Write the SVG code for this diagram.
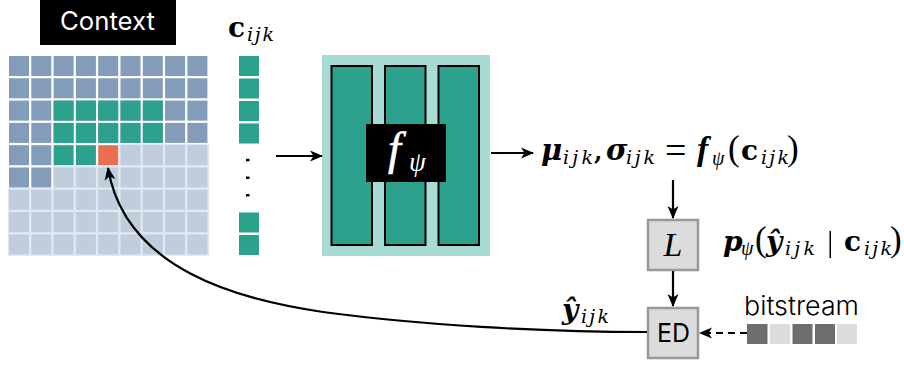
<svg xmlns="http://www.w3.org/2000/svg" width="904" height="366" viewBox="0 0 904 366">
<defs>
<style>
.m{font-family:"DejaVu Serif","Liberation Serif",serif;font-style:italic;font-weight:bold;fill:#000}
.i{font-family:"DejaVu Serif","Liberation Serif",serif;font-style:italic;fill:#000}
.f{font-family:"Liberation Serif","DejaVu Serif",serif;font-style:italic;fill:#000}
.b{font-family:"DejaVu Serif","Liberation Serif",serif;font-weight:bold;fill:#000}
.r{font-family:"Liberation Serif","DejaVu Serif",serif;fill:#000}
.s{font-family:Inter,Lato,"Liberation Sans",sans-serif;font-weight:300;fill:#000}
.bar{fill:#2ca18e;stroke:#000;stroke-width:2}
.sq{fill:#2ca18e}
.bl{fill:#829cba}
.lt{fill:#bfcddd}
.box{fill:#dcdcdc;stroke:#999;stroke-width:2.5}
.dk{fill:#6e6e6e}
.lg{fill:#dcdcdc}
.c{fill:none;stroke:#000;stroke-width:2.2}
</style>
<marker id="a" viewBox="0 0 13 12" refX="12" refY="6" markerUnits="userSpaceOnUse" markerWidth="13" markerHeight="12" orient="auto"><path d="M0 0.500 L13 6 L0 11.500 L3.500 6 Z" fill="#000"/></marker>
<g id="row9"><rect x="9" width="20" height="20"/><rect x="31.3" width="20" height="20"/><rect x="53.6" width="20" height="20"/><rect x="75.9" width="20" height="20"/><rect x="98.2" width="20" height="20"/><rect x="120.5" width="20" height="20"/><rect x="142.8" width="20" height="20"/><rect x="165.1" width="20" height="20"/><rect x="187.4" width="20" height="20"/></g>
</defs>
<g id="context-label"><rect x="40" y="0" width="136" height="45" fill="#000"/><text x="60" y="30" textLength="95" lengthAdjust="spacingAndGlyphs" font-size="25" class="s" style="fill:#fff;font-weight:400">Context</text></g>
<g id="context-grid">
<rect x="8" y="144" width="201" height="112" fill="#e2e8f0"/>
<use href="#row9" y="56" class="bl"/><use href="#row9" y="78.3" class="bl"/><use href="#row9" y="100.6" class="bl"/><use href="#row9" y="122.9" class="bl"/>
<use href="#row9" y="145.2" class="lt"/><use href="#row9" y="167.5" class="lt"/><use href="#row9" y="189.8" class="lt"/><use href="#row9" y="212.1" class="lt"/><use href="#row9" y="234.4" class="lt"/>
<rect x="8" y="144" width="45" height="44" fill="#fff"/>
<rect x="53" y="144" width="66" height="22" fill="#fff"/>
<g class="bl"><rect x="9" y="145.2" width="20" height="20"/><rect x="31.3" y="145.2" width="20" height="20"/><rect x="9" y="167.5" width="20" height="20"/><rect x="31.3" y="167.5" width="20" height="20"/></g>
<g class="sq"><rect x="53.6" y="100.6" width="20" height="20"/><rect x="75.9" y="100.6" width="20" height="20"/><rect x="98.2" y="100.6" width="20" height="20"/><rect x="120.5" y="100.6" width="20" height="20"/><rect x="142.8" y="100.6" width="20" height="20"/>
<rect x="53.6" y="122.9" width="20" height="20"/><rect x="75.9" y="122.9" width="20" height="20"/><rect x="98.2" y="122.9" width="20" height="20"/><rect x="120.5" y="122.9" width="20" height="20"/><rect x="142.8" y="122.9" width="20" height="20"/>
<rect x="53.6" y="145.2" width="20" height="20"/><rect x="75.9" y="145.2" width="20" height="20"/></g>
<rect x="98.2" y="145.2" width="20" height="20" fill="#e96f50"/>
</g>
<g id="context-vector">
<text x="228" y="37" class="b" font-size="28">c</text><text x="247" y="41" textLength="27" class="i" font-size="19">ijk</text>
<g class="sq"><rect x="239" y="56" width="20" height="20"/><rect x="239" y="78.500" width="20" height="20"/><rect x="239" y="101" width="20" height="20"/><rect x="239" y="123.500" width="20" height="20"/><rect x="239" y="212.500" width="20" height="20"/><rect x="239" y="235" width="20" height="20"/></g>
<g fill="#000"><rect x="246" y="158.800" width="3.500" height="2.500"/><rect x="246" y="176.500" width="3.500" height="2.500"/><rect x="246" y="194" width="3.500" height="2.500"/></g>
</g>
<g id="f-network">
<rect x="322" y="55" width="168" height="201" fill="#a8dbd3"/>
<rect class="bar" x="331.500" y="66" width="40.500" height="179"/><rect class="bar" x="385" y="66" width="40.500" height="179"/><rect class="bar" x="438.500" y="66" width="40.500" height="179"/>
<rect x="366" y="124" width="80" height="58" fill="#000"/>
<text x="388" y="164" class="f" font-size="46" style="fill:#fff;stroke:#fff;stroke-width:.6">f</text><text x="409" y="171" class="f" font-size="27" style="fill:#fff">ψ</text>
</g>
<g id="params">
<text x="541" y="160" class="m" font-size="29">μ</text><text x="563" y="164" textLength="30" class="i" font-size="19">ijk</text>
<text x="594" y="160" class="b" font-size="24">,</text>
<text x="606" y="160" class="m" font-size="29">σ</text><text x="626" y="164" textLength="29" class="i" font-size="19">ijk</text>
<text x="665" y="163" class="r" font-size="38">=</text>
<text x="697" y="160" class="f" font-size="34" font-weight="bold">f</text><text x="712" y="165" class="f" font-size="20">ψ</text>
<text x="728" y="160" class="r" font-size="35">(</text><text x="741" y="160" class="b" font-size="28">c</text><text x="761" y="164" textLength="28" class="i" font-size="19">ijk</text><text x="787" y="160" class="r" font-size="35">)</text>
</g>
<g id="likelihood"><rect class="box" x="648" y="220" width="50" height="50"/><text x="673" y="256" class="f" font-size="34" text-anchor="middle">L</text></g>
<g id="likelihood-label">
<text x="723" y="251" class="m" font-size="28">p</text><text x="741" y="255" class="f" font-size="20">ψ</text>
<text x="755" y="251" class="r" font-size="35">(</text><text x="766" y="251" class="m" font-size="28">ŷ</text><text x="785" y="255" textLength="30" class="i" font-size="19">ijk</text>
<rect x="829.500" y="231" width="1.500" height="27" fill="#000"/>
<text x="844" y="251" class="b" font-size="28">c</text><text x="864" y="255" textLength="28" class="i" font-size="19">ijk</text><text x="890" y="251" class="r" font-size="35">)</text>
</g>
<g id="ed"><rect class="box" x="648" y="308" width="50" height="50"/><text x="657" y="342" textLength="33" lengthAdjust="spacingAndGlyphs" class="s" font-size="26" style="font-weight:400">ED</text></g>
<g id="y-hat"><text x="562" y="319" class="m" font-size="28">ŷ</text><text x="581" y="323" textLength="28" class="i" font-size="19">ijk</text></g>
<g id="bitstream"><text x="744" y="315" textLength="115" lengthAdjust="spacingAndGlyphs" class="s" font-size="26">bitstream</text>
<rect class="dk" x="747" y="324" width="20.500" height="20"/><rect class="lg" x="770" y="324" width="20" height="20"/><rect class="dk" x="792.500" y="324" width="20" height="20"/><rect class="dk" x="815" y="324" width="20" height="20"/><rect class="lg" x="837" y="324" width="20" height="20"/></g>
<g id="connectors">
<path class="c" d="M276 156H322" marker-end="url(#a)"/>
<path class="c" d="M491 153H533" marker-end="url(#a)"/>
<path class="c" d="M673 180V218" marker-end="url(#a)"/>
<path class="c" d="M673 271V306" marker-end="url(#a)"/>
<path class="c" d="M747 333H700" stroke-dasharray="7 5" marker-end="url(#a)"/>
<path class="c" d="M647 332C540 332 420 325 323 312C240 300 125 270 108 168" marker-end="url(#a)"/>
</g>
</svg>
